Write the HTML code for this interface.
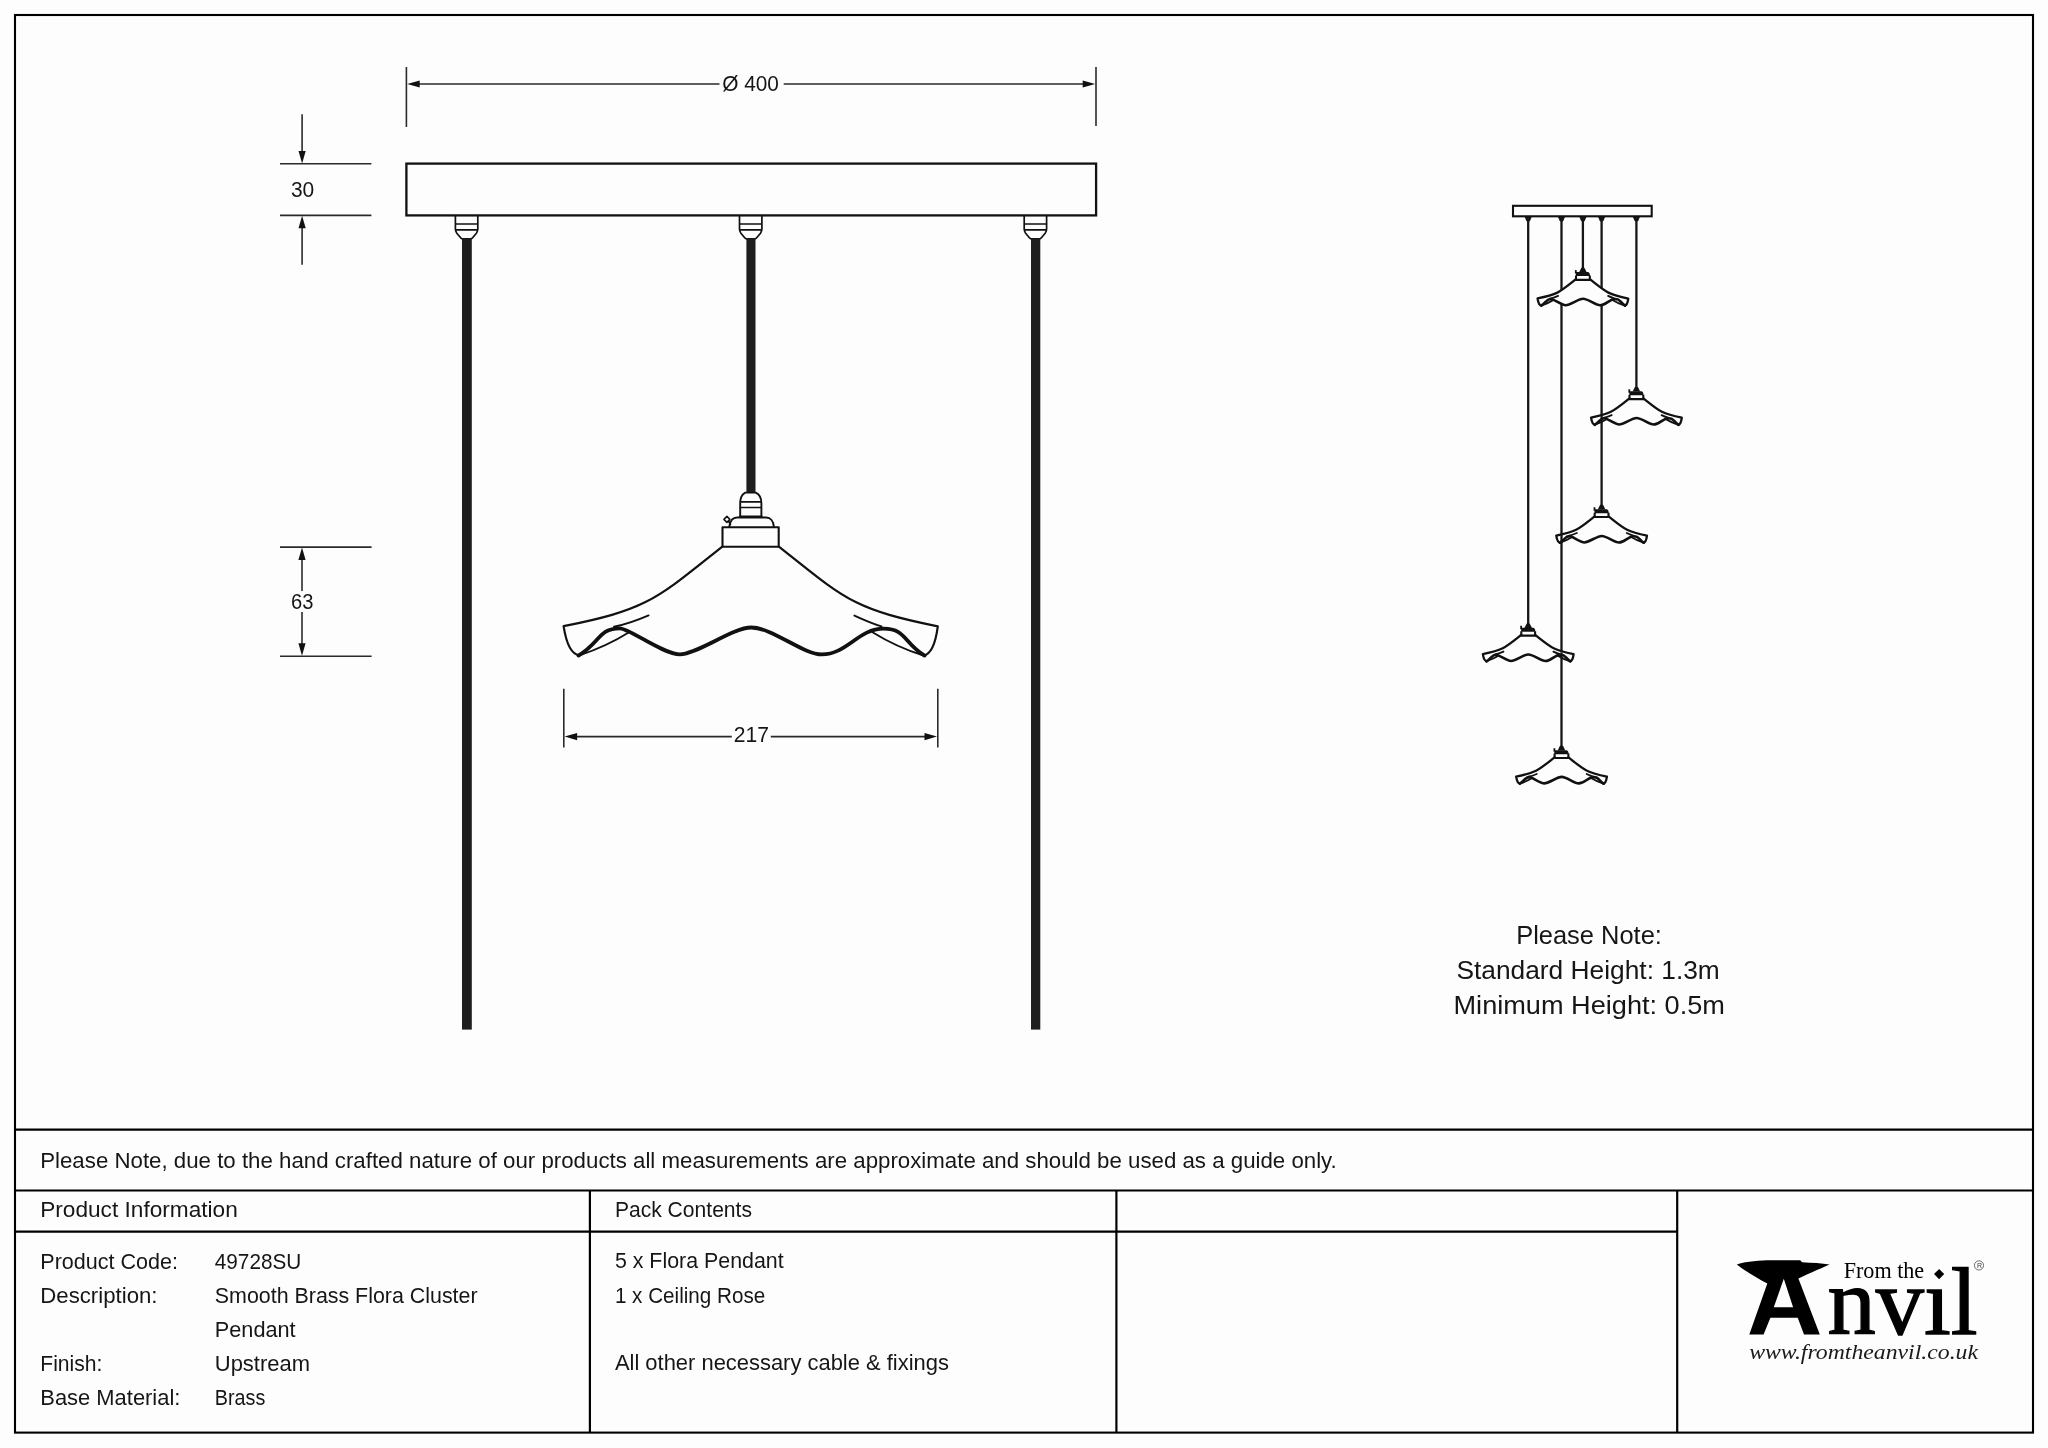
<!DOCTYPE html>
<html><head><meta charset="utf-8"><title>Flora Cluster Pendant</title>
<style>html,body{margin:0;padding:0;background:#fdfdfd;width:2048px;height:1448px;overflow:hidden}</style>
</head><body>
<svg width="2048" height="1448" viewBox="0 0 2048 1448" style="position:absolute;left:0;top:0;will-change:transform">
<rect x="0" y="0" width="2048" height="1448" fill="#fdfdfd"/>
<rect x="15" y="15" width="2018" height="1417.6" fill="none" stroke="#000" stroke-width="2.1"/>
<g stroke="#000" stroke-width="2.2">
<line x1="15" y1="1129.6" x2="2033" y2="1129.6"/>
<line x1="15" y1="1190.5" x2="2033" y2="1190.5"/>
<line x1="15" y1="1231.6" x2="1677.2" y2="1231.6"/>
<line x1="589.9" y1="1190.5" x2="589.9" y2="1432.6"/>
<line x1="1116.4" y1="1190.5" x2="1116.4" y2="1432.6"/>
<line x1="1677.2" y1="1190.5" x2="1677.2" y2="1432.6"/>
</g>
<text x="40.2" y="1168.1" font-size="21.5" text-anchor="start" fill="#161616" style="font-family:'Liberation Sans', sans-serif" textLength="1296.6" lengthAdjust="spacingAndGlyphs" >Please Note, due to the hand crafted nature of our products all measurements are approximate and should be used as a guide only.</text>
<text x="40.2" y="1216.6" font-size="21.5" text-anchor="start" fill="#161616" style="font-family:'Liberation Sans', sans-serif" textLength="197.6" lengthAdjust="spacingAndGlyphs" >Product Information</text>
<text x="614.9" y="1216.7" font-size="21.5" text-anchor="start" fill="#161616" style="font-family:'Liberation Sans', sans-serif" textLength="137.1" lengthAdjust="spacingAndGlyphs" >Pack Contents</text>
<text x="40.3" y="1269.4" font-size="21.5" text-anchor="start" fill="#161616" style="font-family:'Liberation Sans', sans-serif" textLength="137.7" lengthAdjust="spacingAndGlyphs" >Product Code:</text>
<text x="214.8" y="1269.4" font-size="21.5" text-anchor="start" fill="#161616" style="font-family:'Liberation Sans', sans-serif" textLength="86.5" lengthAdjust="spacingAndGlyphs" >49728SU</text>
<text x="40.3" y="1303.1" font-size="21.5" text-anchor="start" fill="#161616" style="font-family:'Liberation Sans', sans-serif" textLength="117.2" lengthAdjust="spacingAndGlyphs" >Description:</text>
<text x="214.8" y="1303.1" font-size="21.5" text-anchor="start" fill="#161616" style="font-family:'Liberation Sans', sans-serif" textLength="262.8" lengthAdjust="spacingAndGlyphs" >Smooth Brass Flora Cluster</text>
<text x="214.8" y="1336.9" font-size="21.5" text-anchor="start" fill="#161616" style="font-family:'Liberation Sans', sans-serif" textLength="80.8" lengthAdjust="spacingAndGlyphs" >Pendant</text>
<text x="40.3" y="1370.8" font-size="21.5" text-anchor="start" fill="#161616" style="font-family:'Liberation Sans', sans-serif" textLength="62.1" lengthAdjust="spacingAndGlyphs" >Finish:</text>
<text x="214.8" y="1370.8" font-size="21.5" text-anchor="start" fill="#161616" style="font-family:'Liberation Sans', sans-serif" textLength="95.2" lengthAdjust="spacingAndGlyphs" >Upstream</text>
<text x="40.3" y="1404.8" font-size="21.5" text-anchor="start" fill="#161616" style="font-family:'Liberation Sans', sans-serif" textLength="140.1" lengthAdjust="spacingAndGlyphs" >Base Material:</text>
<text x="214.8" y="1404.8" font-size="21.5" text-anchor="start" fill="#161616" style="font-family:'Liberation Sans', sans-serif" textLength="50.5" lengthAdjust="spacingAndGlyphs" >Brass</text>
<text x="614.9" y="1268.2" font-size="21.5" text-anchor="start" fill="#161616" style="font-family:'Liberation Sans', sans-serif" textLength="168.8" lengthAdjust="spacingAndGlyphs" >5 x Flora Pendant</text>
<text x="614.9" y="1302.5" font-size="21.5" text-anchor="start" fill="#161616" style="font-family:'Liberation Sans', sans-serif" textLength="150.3" lengthAdjust="spacingAndGlyphs" >1 x Ceiling Rose</text>
<text x="614.9" y="1370.2" font-size="21.5" text-anchor="start" fill="#161616" style="font-family:'Liberation Sans', sans-serif" textLength="334.0" lengthAdjust="spacingAndGlyphs" >All other necessary cable &amp; fixings</text>
<text x="1516.2" y="944.4" font-size="25.5" text-anchor="start" fill="#161616" style="font-family:'Liberation Sans', sans-serif" textLength="145.7" lengthAdjust="spacingAndGlyphs" >Please Note:</text>
<text x="1456.4" y="978.8" font-size="25.5" text-anchor="start" fill="#161616" style="font-family:'Liberation Sans', sans-serif" textLength="263.4" lengthAdjust="spacingAndGlyphs" >Standard Height: 1.3m</text>
<text x="1453.5" y="1014.0" font-size="25.5" text-anchor="start" fill="#161616" style="font-family:'Liberation Sans', sans-serif" textLength="271.4" lengthAdjust="spacingAndGlyphs" >Minimum Height: 0.5m</text>
<g stroke="#2a2a2a" stroke-width="1.6" fill="none">
<line x1="406.4" y1="67" x2="406.4" y2="127"/>
<line x1="1096" y1="67" x2="1096" y2="126"/>
<line x1="418" y1="84" x2="719.5" y2="84"/>
<line x1="783.7" y1="84" x2="1084" y2="84"/>
<line x1="302.1" y1="114.3" x2="302.1" y2="152"/>
<line x1="302.1" y1="227" x2="302.1" y2="264.8"/>
<line x1="280" y1="163.8" x2="371.4" y2="163.8"/>
<line x1="280" y1="215.4" x2="371.4" y2="215.4"/>
<line x1="280" y1="547.1" x2="371.6" y2="547.1"/>
<line x1="280" y1="656.2" x2="371.6" y2="656.2"/>
<line x1="302" y1="559" x2="302" y2="590.9"/>
<line x1="302" y1="611.9" x2="302" y2="644"/>
<line x1="563.8" y1="688.8" x2="563.8" y2="747.4"/>
<line x1="937.8" y1="688.8" x2="937.8" y2="747.4"/>
<line x1="575" y1="736.6" x2="731.8" y2="736.6"/>
<line x1="770.8" y1="736.6" x2="926" y2="736.6"/>
</g>
<path d="M407.2,84 L419.70,80.40 L419.70,87.60 Z" fill="#111"/>
<path d="M1095.2,84 L1082.70,87.60 L1082.70,80.40 Z" fill="#111"/>
<path d="M302.1,163.4 L298.50,150.90 L305.70,150.90 Z" fill="#111"/>
<path d="M302.1,215.8 L305.70,228.30 L298.50,228.30 Z" fill="#111"/>
<path d="M302,547.5 L305.60,560.00 L298.40,560.00 Z" fill="#111"/>
<path d="M302,655.8 L298.40,643.30 L305.60,643.30 Z" fill="#111"/>
<path d="M564.6,736.6 L577.10,733.00 L577.10,740.20 Z" fill="#111"/>
<path d="M937,736.6 L924.50,740.20 L924.50,733.00 Z" fill="#111"/>
<text x="722.2" y="90.9" font-size="22.8" text-anchor="start" fill="#161616" style="font-family:'Liberation Sans', sans-serif" textLength="56.7" lengthAdjust="spacingAndGlyphs" >Ø 400</text>
<text x="290.9" y="197.3" font-size="21.5" text-anchor="start" fill="#161616" style="font-family:'Liberation Sans', sans-serif" textLength="23.3" lengthAdjust="spacingAndGlyphs" >30</text>
<text x="291.0" y="609.1" font-size="21.5" text-anchor="start" fill="#161616" style="font-family:'Liberation Sans', sans-serif" textLength="22.4" lengthAdjust="spacingAndGlyphs" >63</text>
<text x="733.7" y="741.5" font-size="21.5" text-anchor="start" fill="#161616" style="font-family:'Liberation Sans', sans-serif" textLength="35.2" lengthAdjust="spacingAndGlyphs" >217</text>
<rect x="406.4" y="163.6" width="689.7" height="51.8" fill="none" stroke="#111" stroke-width="2.3"/>
<g fill="none" stroke="#111" stroke-width="1.7" stroke-linejoin="round">
<path d="M455.40,215.4 L455.40,229 C455.40,231 456.00,232 456.80,233.2 L460.40,237.5 C461.10,238.4 461.60,238.8 462.40,238.8 L470.80,238.8 C471.60,238.8 472.10,238.4 472.80,237.5 L476.40,233.2 C477.20,232 477.80,231 477.80,229 L477.80,215.4"/>
<path d="M455.60,224 L477.60,224 M455.60,229.9 L477.60,229.9"/>
</g>
<rect x="462.0" y="238.5" width="9.80" height="791.10" fill="#1e1e1e"/>
<g fill="none" stroke="#111" stroke-width="1.7" stroke-linejoin="round">
<path d="M739.50,215.4 L739.50,229 C739.50,231 740.10,232 740.90,233.2 L744.50,237.5 C745.20,238.4 745.70,238.8 746.50,238.8 L754.90,238.8 C755.70,238.8 756.20,238.4 756.90,237.5 L760.50,233.2 C761.30,232 761.90,231 761.90,229 L761.90,215.4"/>
<path d="M739.70,224 L761.70,224 M739.70,229.9 L761.70,229.9"/>
</g>
<rect x="746.4" y="238.5" width="9.10" height="254.30" fill="#1e1e1e"/>
<g fill="none" stroke="#111" stroke-width="1.7" stroke-linejoin="round">
<path d="M1024.20,215.4 L1024.20,229 C1024.20,231 1024.80,232 1025.60,233.2 L1029.20,237.5 C1029.90,238.4 1030.40,238.8 1031.20,238.8 L1039.60,238.8 C1040.40,238.8 1040.90,238.4 1041.60,237.5 L1045.20,233.2 C1046.00,232 1046.60,231 1046.60,229 L1046.60,215.4"/>
<path d="M1024.40,224 L1046.40,224 M1024.40,229.9 L1046.40,229.9"/>
</g>
<rect x="1031.0" y="238.5" width="9.30" height="791.10" fill="#1e1e1e"/>
<path d="M722,546.8 C666.8,589.6 652.9,610.1 600,620 L648.6,615.4 C638,620 628,624 620,626.8 C627.9,626.8 663.5,654.4 679.9,654.4 C697.1,654.4 732.9,627.5 751.2,627.5 C772.1,627.5 803,654.4 821.8,654.4 C846.2,654.4 857.3,628.2 883.5,628.2 C875,624.2 865,620.2 854.4,615.6 L902,620 C848.3,610.1 834.4,589.6 779.2,546.8 Z" fill="#fdfdfd" stroke="none"/>
<g fill="none" stroke="#111" stroke-linejoin="round" stroke-linecap="round">
<path d="M740.2,517 L740.2,503.3 C740.2,497.8 742.3,494 745.3,492.6 L755.8,492.6 C758.8,494 761.4,497.8 761.4,503.3 L761.4,517" stroke-width="1.9"/>
<path d="M740.4,501.8 L761.2,501.8 M740.4,507.5 L761.2,507.5" stroke-width="1.7"/>
<path d="M740.2,516.8 L761.4,516.8" stroke-width="2.6"/>
<path d="M729.2,526.8 C730,521.5 732.8,517.5 737,517.5 L766.3,517.5 C770.5,517.5 773.4,521.5 773.9,526.8" stroke-width="1.9"/>
<path d="M726.9,516.4 L729.9,519.4 L726.9,522.4 L723.9,519.4 Z" stroke-width="1.5"/>
<path d="M728.8,521.5 L730.4,524.5" stroke-width="1.8"/>
<path d="M722.5,527.2 L778.7,527.2 L778.7,546.8 L722.5,546.8 Z" stroke-width="2.1"/>
<path d="M722,546.8 C655.9,599.4 648.5,609.1 563.6,626.2 C566.3,643.7 571.5,654.4 579.4,655.4" stroke-width="2.2"/>
<path d="M779.2,546.8 C845.3,599.4 852.7,609.1 937.8,626.4 C935.5,643.7 930.5,654.4 923.6,655.5" stroke-width="2.2"/>
<path d="M578.5,655.6 C600.5,642.7 598.2,628.3 620.0,628.3 C628.9,628.3 663.5,654.4 679.9,654.4 C697.1,654.4 732.9,627.5 751.2,627.5 C772.1,627.5 803,654.4 821.8,654.4 C847.2,654.4 858.3,628.6 883.5,628.6 C906,628.6 903.6,642.7 924.6,655.6" stroke-width="3.8"/>
<path d="M648.6,615.4 C638,620 628,624 614,626.8" stroke-width="1.9"/>
<path d="M854.4,615.6 C864,620 872,623.6 881.5,626.4" stroke-width="1.9"/>
<path d="M579.4,655.3 C594,650.5 612,643 629.5,632" stroke-width="1.9"/>
<path d="M872.5,632.2 C890,643 908,650.7 923.6,655.5" stroke-width="1.9"/>
</g>
<rect x="1513" y="205.8" width="138.7" height="10.5" fill="none" stroke="#111" stroke-width="2.1"/>
<path d="M1579.70,216.6 L1586.10,216.6 L1584.30,221 L1581.50,221 Z" fill="#111" stroke="#111" stroke-width="0.8"/>
<line x1="1582.9" y1="217" x2="1582.9" y2="269.50" stroke="#161616" stroke-width="2.3"/>
<path d="M1633.20,216.6 L1639.60,216.6 L1637.80,221 L1635.00,221 Z" fill="#111" stroke="#111" stroke-width="0.8"/>
<line x1="1636.4" y1="217" x2="1636.4" y2="388.70" stroke="#161616" stroke-width="2.3"/>
<path d="M1598.40,216.6 L1604.80,216.6 L1603.00,221 L1600.20,221 Z" fill="#111" stroke="#111" stroke-width="0.8"/>
<line x1="1601.6" y1="217" x2="1601.6" y2="506.65" stroke="#161616" stroke-width="2.3"/>
<path d="M1525.00,216.6 L1531.40,216.6 L1529.60,221 L1526.80,221 Z" fill="#111" stroke="#111" stroke-width="0.8"/>
<line x1="1528.2" y1="217" x2="1528.2" y2="625.20" stroke="#161616" stroke-width="2.3"/>
<path d="M1558.30,216.6 L1564.70,216.6 L1562.90,221 L1560.10,221 Z" fill="#111" stroke="#111" stroke-width="0.8"/>
<line x1="1561.5" y1="217" x2="1561.5" y2="747.60" stroke="#161616" stroke-width="2.3"/>
<g transform="translate(1582.90,298.50) scale(0.2425) translate(-750.6,-626.3)">
<path d="M722,546.8 C666.8,589.6 652.9,610.1 600,620 L648.6,615.4 C638,620 628,624 620,626.8 C627.9,626.8 663.5,654.4 679.9,654.4 C697.1,654.4 732.9,627.5 751.2,627.5 C772.1,627.5 803,654.4 821.8,654.4 C846.2,654.4 857.3,628.2 883.5,628.2 C875,624.2 865,620.2 854.4,615.6 L902,620 C848.3,610.1 834.4,589.6 779.2,546.8 Z" fill="#fdfdfd" stroke="none"/>
<g fill="none" stroke="#111" stroke-linejoin="round" stroke-linecap="round">
<path d="M722,546.8 C655.9,599.4 648.5,609.1 563.6,626.2 C566.3,643.7 571.5,654.4 579.4,655.4" stroke-width="9.48"/>
<path d="M779.2,546.8 C845.3,599.4 852.7,609.1 937.8,626.4 C935.5,643.7 930.5,654.4 923.6,655.5" stroke-width="9.48"/>
<path d="M578.5,655.6 C600.5,642.7 598.2,628.3 620.0,628.3 C628.9,628.3 663.5,654.4 679.9,654.4 C697.1,654.4 732.9,627.5 751.2,627.5 C772.1,627.5 803,654.4 821.8,654.4 C847.2,654.4 858.3,628.6 883.5,628.6 C906,628.6 903.6,642.7 924.6,655.6" stroke-width="10.72"/>
<path d="M648.6,615.4 C638,620 628,624 614,626.8" stroke-width="7.42"/>
<path d="M854.4,615.6 C864,620 872,623.6 881.5,626.4" stroke-width="7.42"/>
<path d="M579.4,655.3 C594,650.5 612,643 629.5,632" stroke-width="7.42"/>
<path d="M872.5,632.2 C890,643 908,650.7 923.6,655.5" stroke-width="7.42"/>
</g></g>
<path d="M1581.40,267.70 L1584.40,267.70 L1586.70,272.30 L1579.10,272.30 Z" fill="#111"/>
<path d="M1575.80,276.10 L1575.80,272.10 L1588.10,272.10 Q1590.00,272.50 1590.00,276.10 Z" fill="#111"/>
<path d="M1574.90,270.10 L1576.70,270.10 L1576.70,273.50 L1574.90,273.50 Z" fill="#111"/>
<path d="M1576.00,275.50 L1576.00,279.90 L1589.80,279.90 L1589.80,275.50" fill="none" stroke="#111" stroke-width="2.1"/>
<g transform="translate(1636.40,417.70) scale(0.2425) translate(-750.6,-626.3)">
<path d="M722,546.8 C666.8,589.6 652.9,610.1 600,620 L648.6,615.4 C638,620 628,624 620,626.8 C627.9,626.8 663.5,654.4 679.9,654.4 C697.1,654.4 732.9,627.5 751.2,627.5 C772.1,627.5 803,654.4 821.8,654.4 C846.2,654.4 857.3,628.2 883.5,628.2 C875,624.2 865,620.2 854.4,615.6 L902,620 C848.3,610.1 834.4,589.6 779.2,546.8 Z" fill="#fdfdfd" stroke="none"/>
<g fill="none" stroke="#111" stroke-linejoin="round" stroke-linecap="round">
<path d="M722,546.8 C655.9,599.4 648.5,609.1 563.6,626.2 C566.3,643.7 571.5,654.4 579.4,655.4" stroke-width="9.48"/>
<path d="M779.2,546.8 C845.3,599.4 852.7,609.1 937.8,626.4 C935.5,643.7 930.5,654.4 923.6,655.5" stroke-width="9.48"/>
<path d="M578.5,655.6 C600.5,642.7 598.2,628.3 620.0,628.3 C628.9,628.3 663.5,654.4 679.9,654.4 C697.1,654.4 732.9,627.5 751.2,627.5 C772.1,627.5 803,654.4 821.8,654.4 C847.2,654.4 858.3,628.6 883.5,628.6 C906,628.6 903.6,642.7 924.6,655.6" stroke-width="10.72"/>
<path d="M648.6,615.4 C638,620 628,624 614,626.8" stroke-width="7.42"/>
<path d="M854.4,615.6 C864,620 872,623.6 881.5,626.4" stroke-width="7.42"/>
<path d="M579.4,655.3 C594,650.5 612,643 629.5,632" stroke-width="7.42"/>
<path d="M872.5,632.2 C890,643 908,650.7 923.6,655.5" stroke-width="7.42"/>
</g></g>
<path d="M1634.90,386.90 L1637.90,386.90 L1640.20,391.50 L1632.60,391.50 Z" fill="#111"/>
<path d="M1629.30,395.30 L1629.30,391.30 L1641.60,391.30 Q1643.50,391.70 1643.50,395.30 Z" fill="#111"/>
<path d="M1628.40,389.30 L1630.20,389.30 L1630.20,392.70 L1628.40,392.70 Z" fill="#111"/>
<path d="M1629.50,394.70 L1629.50,399.10 L1643.30,399.10 L1643.30,394.70" fill="none" stroke="#111" stroke-width="2.1"/>
<g transform="translate(1601.60,535.65) scale(0.2425) translate(-750.6,-626.3)">
<path d="M722,546.8 C666.8,589.6 652.9,610.1 600,620 L648.6,615.4 C638,620 628,624 620,626.8 C627.9,626.8 663.5,654.4 679.9,654.4 C697.1,654.4 732.9,627.5 751.2,627.5 C772.1,627.5 803,654.4 821.8,654.4 C846.2,654.4 857.3,628.2 883.5,628.2 C875,624.2 865,620.2 854.4,615.6 L902,620 C848.3,610.1 834.4,589.6 779.2,546.8 Z" fill="#fdfdfd" stroke="none"/>
<g fill="none" stroke="#111" stroke-linejoin="round" stroke-linecap="round">
<path d="M722,546.8 C655.9,599.4 648.5,609.1 563.6,626.2 C566.3,643.7 571.5,654.4 579.4,655.4" stroke-width="9.48"/>
<path d="M779.2,546.8 C845.3,599.4 852.7,609.1 937.8,626.4 C935.5,643.7 930.5,654.4 923.6,655.5" stroke-width="9.48"/>
<path d="M578.5,655.6 C600.5,642.7 598.2,628.3 620.0,628.3 C628.9,628.3 663.5,654.4 679.9,654.4 C697.1,654.4 732.9,627.5 751.2,627.5 C772.1,627.5 803,654.4 821.8,654.4 C847.2,654.4 858.3,628.6 883.5,628.6 C906,628.6 903.6,642.7 924.6,655.6" stroke-width="10.72"/>
<path d="M648.6,615.4 C638,620 628,624 614,626.8" stroke-width="7.42"/>
<path d="M854.4,615.6 C864,620 872,623.6 881.5,626.4" stroke-width="7.42"/>
<path d="M579.4,655.3 C594,650.5 612,643 629.5,632" stroke-width="7.42"/>
<path d="M872.5,632.2 C890,643 908,650.7 923.6,655.5" stroke-width="7.42"/>
</g></g>
<path d="M1600.10,504.85 L1603.10,504.85 L1605.40,509.45 L1597.80,509.45 Z" fill="#111"/>
<path d="M1594.50,513.25 L1594.50,509.25 L1606.80,509.25 Q1608.70,509.65 1608.70,513.25 Z" fill="#111"/>
<path d="M1593.60,507.25 L1595.40,507.25 L1595.40,510.65 L1593.60,510.65 Z" fill="#111"/>
<path d="M1594.70,512.65 L1594.70,517.05 L1608.50,517.05 L1608.50,512.65" fill="none" stroke="#111" stroke-width="2.1"/>
<g transform="translate(1528.20,654.20) scale(0.2425) translate(-750.6,-626.3)">
<path d="M722,546.8 C666.8,589.6 652.9,610.1 600,620 L648.6,615.4 C638,620 628,624 620,626.8 C627.9,626.8 663.5,654.4 679.9,654.4 C697.1,654.4 732.9,627.5 751.2,627.5 C772.1,627.5 803,654.4 821.8,654.4 C846.2,654.4 857.3,628.2 883.5,628.2 C875,624.2 865,620.2 854.4,615.6 L902,620 C848.3,610.1 834.4,589.6 779.2,546.8 Z" fill="#fdfdfd" stroke="none"/>
<g fill="none" stroke="#111" stroke-linejoin="round" stroke-linecap="round">
<path d="M722,546.8 C655.9,599.4 648.5,609.1 563.6,626.2 C566.3,643.7 571.5,654.4 579.4,655.4" stroke-width="9.48"/>
<path d="M779.2,546.8 C845.3,599.4 852.7,609.1 937.8,626.4 C935.5,643.7 930.5,654.4 923.6,655.5" stroke-width="9.48"/>
<path d="M578.5,655.6 C600.5,642.7 598.2,628.3 620.0,628.3 C628.9,628.3 663.5,654.4 679.9,654.4 C697.1,654.4 732.9,627.5 751.2,627.5 C772.1,627.5 803,654.4 821.8,654.4 C847.2,654.4 858.3,628.6 883.5,628.6 C906,628.6 903.6,642.7 924.6,655.6" stroke-width="10.72"/>
<path d="M648.6,615.4 C638,620 628,624 614,626.8" stroke-width="7.42"/>
<path d="M854.4,615.6 C864,620 872,623.6 881.5,626.4" stroke-width="7.42"/>
<path d="M579.4,655.3 C594,650.5 612,643 629.5,632" stroke-width="7.42"/>
<path d="M872.5,632.2 C890,643 908,650.7 923.6,655.5" stroke-width="7.42"/>
</g></g>
<path d="M1526.70,623.40 L1529.70,623.40 L1532.00,628.00 L1524.40,628.00 Z" fill="#111"/>
<path d="M1521.10,631.80 L1521.10,627.80 L1533.40,627.80 Q1535.30,628.20 1535.30,631.80 Z" fill="#111"/>
<path d="M1520.20,625.80 L1522.00,625.80 L1522.00,629.20 L1520.20,629.20 Z" fill="#111"/>
<path d="M1521.30,631.20 L1521.30,635.60 L1535.10,635.60 L1535.10,631.20" fill="none" stroke="#111" stroke-width="2.1"/>
<g transform="translate(1561.50,776.60) scale(0.2425) translate(-750.6,-626.3)">
<path d="M722,546.8 C666.8,589.6 652.9,610.1 600,620 L648.6,615.4 C638,620 628,624 620,626.8 C627.9,626.8 663.5,654.4 679.9,654.4 C697.1,654.4 732.9,627.5 751.2,627.5 C772.1,627.5 803,654.4 821.8,654.4 C846.2,654.4 857.3,628.2 883.5,628.2 C875,624.2 865,620.2 854.4,615.6 L902,620 C848.3,610.1 834.4,589.6 779.2,546.8 Z" fill="#fdfdfd" stroke="none"/>
<g fill="none" stroke="#111" stroke-linejoin="round" stroke-linecap="round">
<path d="M722,546.8 C655.9,599.4 648.5,609.1 563.6,626.2 C566.3,643.7 571.5,654.4 579.4,655.4" stroke-width="9.48"/>
<path d="M779.2,546.8 C845.3,599.4 852.7,609.1 937.8,626.4 C935.5,643.7 930.5,654.4 923.6,655.5" stroke-width="9.48"/>
<path d="M578.5,655.6 C600.5,642.7 598.2,628.3 620.0,628.3 C628.9,628.3 663.5,654.4 679.9,654.4 C697.1,654.4 732.9,627.5 751.2,627.5 C772.1,627.5 803,654.4 821.8,654.4 C847.2,654.4 858.3,628.6 883.5,628.6 C906,628.6 903.6,642.7 924.6,655.6" stroke-width="10.72"/>
<path d="M648.6,615.4 C638,620 628,624 614,626.8" stroke-width="7.42"/>
<path d="M854.4,615.6 C864,620 872,623.6 881.5,626.4" stroke-width="7.42"/>
<path d="M579.4,655.3 C594,650.5 612,643 629.5,632" stroke-width="7.42"/>
<path d="M872.5,632.2 C890,643 908,650.7 923.6,655.5" stroke-width="7.42"/>
</g></g>
<path d="M1560.00,745.80 L1563.00,745.80 L1565.30,750.40 L1557.70,750.40 Z" fill="#111"/>
<path d="M1554.40,754.20 L1554.40,750.20 L1566.70,750.20 Q1568.60,750.60 1568.60,754.20 Z" fill="#111"/>
<path d="M1553.50,748.20 L1555.30,748.20 L1555.30,751.60 L1553.50,751.60 Z" fill="#111"/>
<path d="M1554.60,753.60 L1554.60,758.00 L1568.40,758.00 L1568.40,753.60" fill="none" stroke="#111" stroke-width="2.1"/>
<g fill="#000">
<path fill-rule="evenodd" d="M1736.8,1264.6 C1742,1262.3 1755,1260.8 1767.3,1260.3 L1800.2,1260.3 L1802.1,1262.3 C1812,1262.8 1822,1263.4 1829.6,1264.4 C1820,1268.5 1808,1274 1798.4,1278.6 L1819.8,1334.5 L1804,1334.5 L1797.7,1317.7 L1770.4,1317.7 L1763.6,1334.5 L1749.3,1334.5 L1767.3,1283.6 C1757,1278 1745,1271 1736.8,1264.6 Z M1783.8,1278.8 L1793.1,1307.2 L1773.8,1307.2 Z"/>
</g>
<text x="1827.5" y="1334.3" font-size="95.5" text-anchor="start" fill="#000" style="font-family:'Liberation Serif', serif" textLength="150.2" lengthAdjust="spacingAndGlyphs" stroke="#000" stroke-width="1.3">nv&#305;l</text>
<text x="1843.7" y="1278.2" font-size="22.6" text-anchor="start" fill="#000" style="font-family:'Liberation Serif', serif" textLength="80.5" lengthAdjust="spacingAndGlyphs" >From the</text>
<path d="M1939.1,1269 L1944.2,1274.1 L1939.1,1279.2 L1934,1274.1 Z" fill="#000"/>
<circle cx="1979" cy="1265.4" r="4.6" fill="none" stroke="#333" stroke-width="0.7"/>
<text x="1976.9" y="1268.3" font-size="7" text-anchor="start" fill="#333" style="font-family:'Liberation Sans', sans-serif" >R</text>
<text x="1749.2" y="1358.8" font-size="21.5" text-anchor="start" fill="#1a1a1a" style="font-family:'Liberation Serif', serif" textLength="228.8" lengthAdjust="spacingAndGlyphs" font-style="italic">www.fromtheanvil.co.uk</text>
</svg>
</body></html>
